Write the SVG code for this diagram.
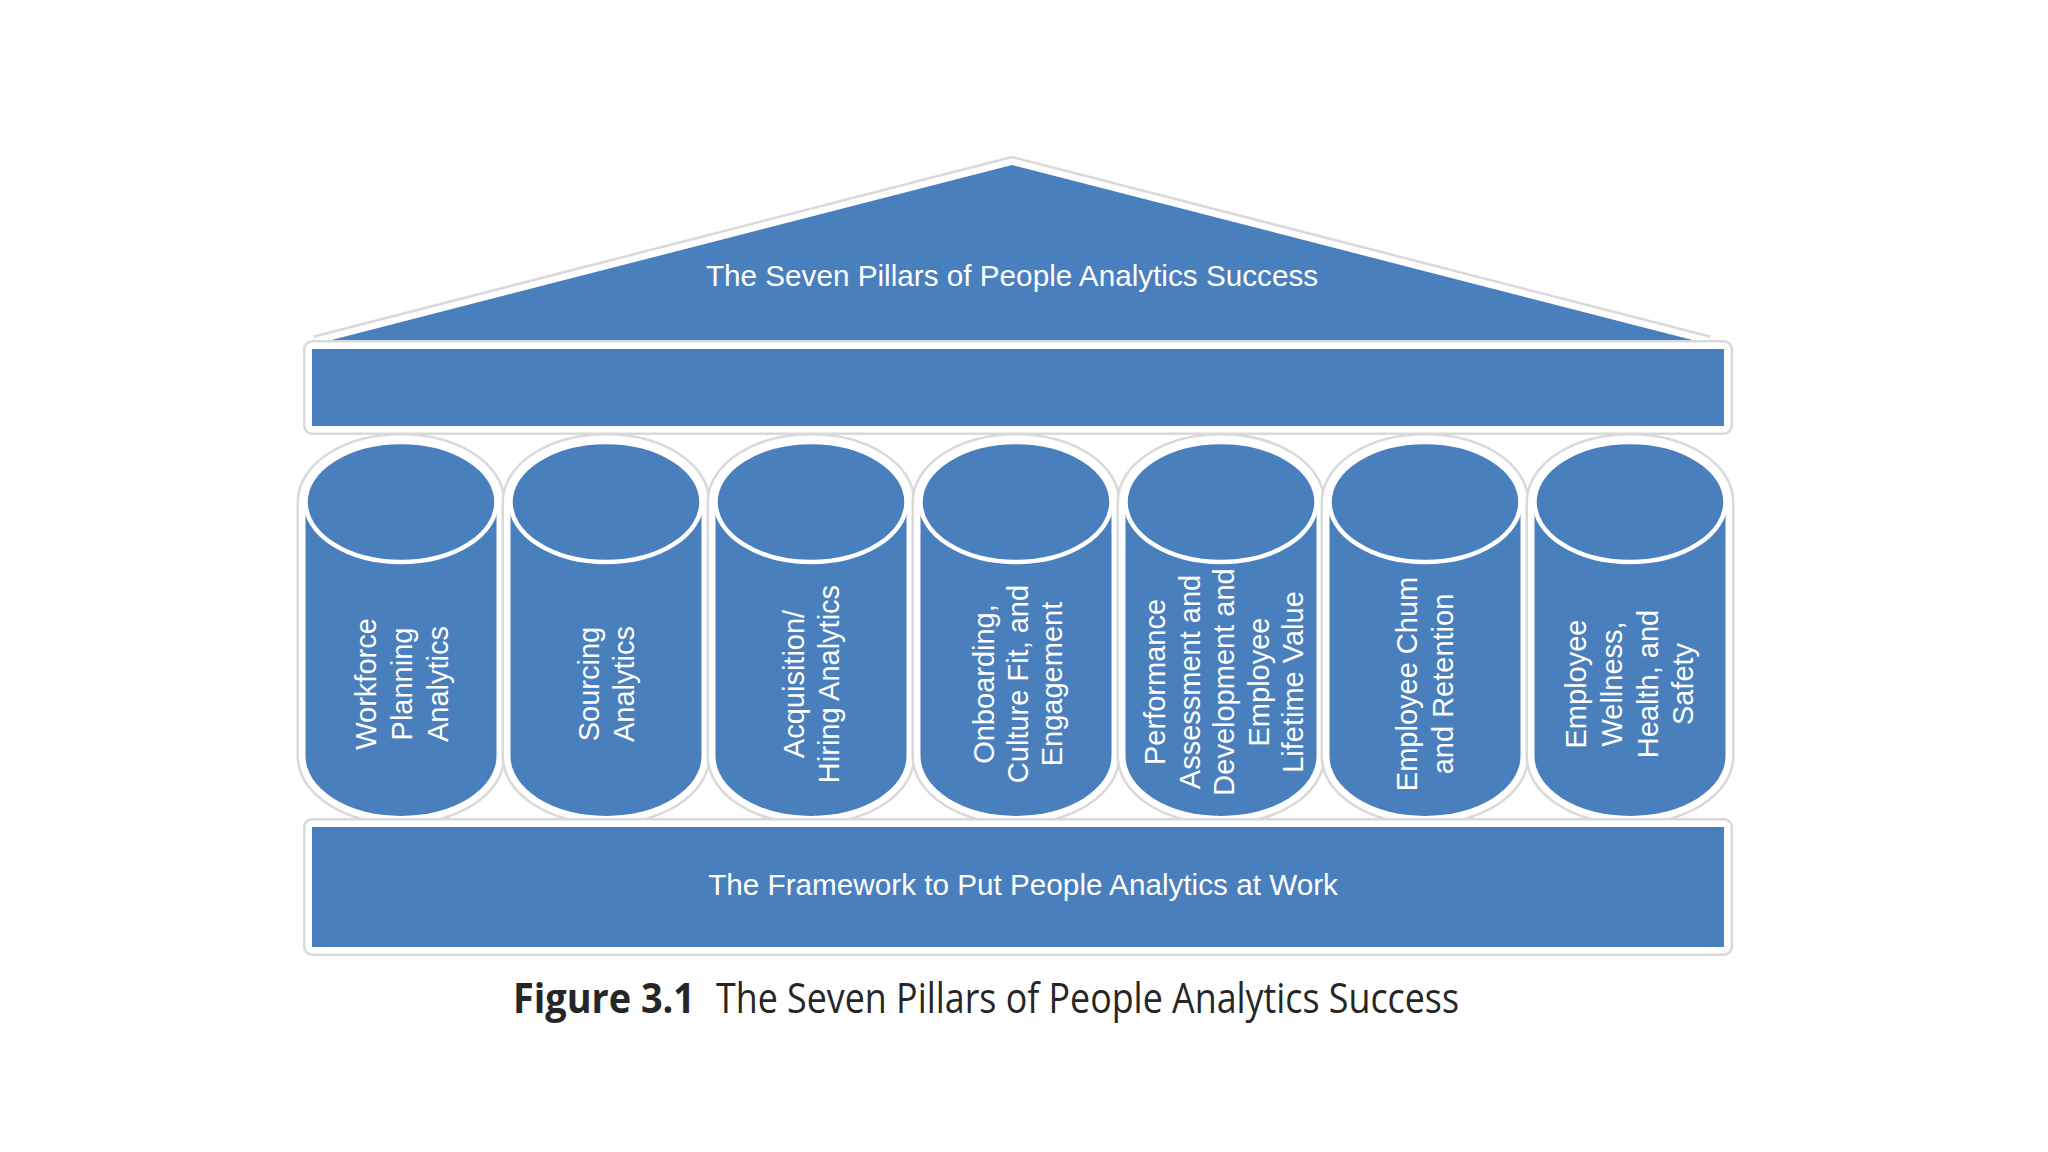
<svg xmlns="http://www.w3.org/2000/svg" width="2048" height="1152" viewBox="0 0 2048 1152">
  <defs>
    <style>
      .halo { fill: none; stroke: #d9d9d9; stroke-width: 18; stroke-linejoin: round; }
      .rim { fill: none; stroke: #ffffff; stroke-width: 13; stroke-linejoin: round; }
      .fill { fill: #4a7fbd; stroke: none; }
      .cap { fill: #4a7fbd; stroke: #ffffff; stroke-width: 4.5; }
      .lbl { font-family: "Liberation Sans", Arial, sans-serif; font-size: 29.7px; fill: #ffffff; text-anchor: middle; }
      .plbl { font-family: "Liberation Sans", Arial, sans-serif; font-size: 29px; fill: #ffffff; text-anchor: middle; }
      .capt { font-family: "Open Sans", "Noto Sans", sans-serif; font-size: 42px; fill: #262626; }
    </style>
    <path id="cyl" d="M -95.5 502 A 95.5 60 0 0 1 95.5 502 L 95.5 756 A 95.5 60 0 0 1 -95.5 756 Z"/>
    <polygon id="roofshape" points="1012,165 316,344 1708,344"/>
  </defs>
  <rect width="2048" height="1152" fill="#ffffff"/>

  <g id="roof">
    <use href="#roofshape" class="halo" style="stroke-linejoin:miter"/>
    <use href="#roofshape" class="rim" style="stroke-linejoin:miter"/>
    <use href="#roofshape" class="fill"/>
    <text class="lbl" x="1012" y="286">The Seven Pillars of People Analytics Success</text>
  </g>

  <g id="beam">
    <rect class="halo" x="312" y="349" width="1412" height="77"/>
    <rect class="rim" x="312" y="349" width="1412" height="77"/>
    <rect class="fill" x="312" y="349" width="1412" height="77"/>
  </g>

  <g id="pillar1" transform="translate(401,0)">
    <use href="#cyl" class="halo"/>
    <use href="#cyl" class="rim"/>
    <use href="#cyl" class="fill"/>
    <ellipse class="cap" cx="0" cy="502" rx="95.5" ry="60"/>
    <text class="plbl" transform="translate(0,684) rotate(-90)"><tspan x="0" y="-25.5">Workforce</tspan><tspan x="0" y="10.5">Planning</tspan><tspan x="0" y="46.5">Analytics</tspan></text>
  </g>

  <g id="pillar2" transform="translate(606,0)">
    <use href="#cyl" class="halo"/>
    <use href="#cyl" class="rim"/>
    <use href="#cyl" class="fill"/>
    <ellipse class="cap" cx="0" cy="502" rx="95.5" ry="60"/>
    <text class="plbl" transform="translate(0,684) rotate(-90)"><tspan x="0" y="-7">Sourcing</tspan><tspan x="0" y="28">Analytics</tspan></text>
  </g>

  <g id="pillar3" transform="translate(811,0)">
    <use href="#cyl" class="halo"/>
    <use href="#cyl" class="rim"/>
    <use href="#cyl" class="fill"/>
    <ellipse class="cap" cx="0" cy="502" rx="95.5" ry="60"/>
    <text class="plbl" transform="translate(0,684) rotate(-90)"><tspan x="0" y="-7">Acquisition/</tspan><tspan x="0" y="28">Hiring Analytics</tspan></text>
  </g>

  <g id="pillar4" transform="translate(1016,0)">
    <use href="#cyl" class="halo"/>
    <use href="#cyl" class="rim"/>
    <use href="#cyl" class="fill"/>
    <ellipse class="cap" cx="0" cy="502" rx="95.5" ry="60"/>
    <text class="plbl" transform="translate(0,684) rotate(-90)"><tspan x="0" y="-22.5">Onboarding,</tspan><tspan x="0" y="11.5">Culture Fit, and</tspan><tspan x="0" y="45.5">Engagement</tspan></text>
  </g>

  <g id="pillar5" transform="translate(1221,0)">
    <use href="#cyl" class="halo"/>
    <use href="#cyl" class="rim"/>
    <use href="#cyl" class="fill"/>
    <ellipse class="cap" cx="0" cy="502" rx="95.5" ry="60"/>
    <text class="plbl" transform="translate(0,682) rotate(-90)"><tspan x="0" y="-56">Performance</tspan><tspan x="0" y="-21.5">Assessment and</tspan><tspan x="0" y="13">Development and</tspan><tspan x="0" y="47.5">Employee</tspan><tspan x="0" y="82">Lifetime Value</tspan></text>
  </g>

  <g id="pillar6" transform="translate(1425,0)">
    <use href="#cyl" class="halo"/>
    <use href="#cyl" class="rim"/>
    <use href="#cyl" class="fill"/>
    <ellipse class="cap" cx="0" cy="502" rx="95.5" ry="60"/>
    <text class="plbl" transform="translate(0,684) rotate(-90)"><tspan x="0" y="-8">Employee Chum</tspan><tspan x="0" y="27.5">and Retention</tspan></text>
  </g>

  <g id="pillar7" transform="translate(1630,0)">
    <use href="#cyl" class="halo"/>
    <use href="#cyl" class="rim"/>
    <use href="#cyl" class="fill"/>
    <ellipse class="cap" cx="0" cy="502" rx="95.5" ry="60"/>
    <text class="plbl" transform="translate(0,684) rotate(-90)"><tspan x="0" y="-44">Employee</tspan><tspan x="0" y="-8">Wellness,</tspan><tspan x="0" y="27.5">Health, and</tspan><tspan x="0" y="62.5">Safety</tspan></text>
  </g>

  <g id="base">
    <rect class="halo" x="312" y="827" width="1412" height="120"/>
    <rect class="rim" x="312" y="827" width="1412" height="120"/>
    <rect class="fill" x="312" y="827" width="1412" height="120"/>
    <text class="lbl" x="1023" y="895">The Framework to Put People Analytics at Work</text>
  </g>

  <g id="connectors"/>

  <g id="caption">
    <text class="capt" x="513" y="1013" font-weight="700" fill="#1e1e1e" textLength="182" lengthAdjust="spacingAndGlyphs">Figure 3.1</text>
    <text class="capt" x="716" y="1013" textLength="743" lengthAdjust="spacingAndGlyphs">The Seven Pillars of People Analytics Success</text>
  </g>
</svg>
